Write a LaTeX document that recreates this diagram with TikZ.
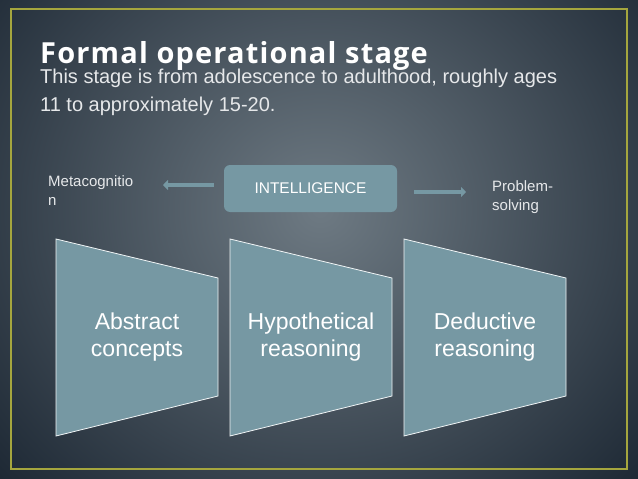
\documentclass[tikz,border=0pt]{standalone}
\usepackage{fontspec}
\usetikzlibrary{arrows.meta}
\setmainfont{Liberation Sans}
\newfontfamily\titlefont[Ligatures=NoCommon,LetterSpace=4]{Open Sans}
\definecolor{bgin}{HTML}{6E7A83}
\definecolor{bgout}{HTML}{1C2733}
\definecolor{boxc}{HTML}{7698A3}
\definecolor{framec}{HTML}{A5A63E}
\definecolor{txt}{HTML}{E6E8EA}
\tikzset{
  stagebox/.style={fill=boxc, draw=white!90!boxc, line width=0.8pt},
  lbl/.style={text=white, font=\fontsize{23}{27}\selectfont, align=center},
  small/.style={text=txt, font=\fontsize{15}{19}\selectfont, align=left, anchor=north west, inner sep=0pt},
  arr/.style={draw=boxc, line width=4.5pt, -{Triangle[length=5pt,width=10pt]}}
}
\begin{document}
\begin{tikzpicture}[x=1pt,y=-1pt]
\useasboundingbox (0,0) rectangle (638,479);
\shade[inner color=bgin, outer color=bgout] (-120,-200) rectangle (760,620);
\draw[framec, line width=1.2pt] (11,9) rectangle (627,469);
\node[anchor=base west, inner sep=0pt, text=white, font=\titlefont\bfseries\fontsize{29}{32}\selectfont] (title) at (40,63) {Formal operational stage};
\node[anchor=north west, inner sep=0pt, text=txt, align=left, font=\fontsize{20}{28}\selectfont] (intro) at (40,69) {This stage is from adolescence to adulthood, roughly ages\\11 to approximately 15-20.};
\node[fill=boxc, rounded corners=6pt, minimum width=173pt, minimum height=47pt, text=white, font=\fontsize{15.5}{18}\selectfont] (intel) at (310.5,188.5) {INTELLIGENCE};
\node[small] (meta) at (48,175) {Metacognitio\\n};
\node[small] (prob) at (492,180) {Problem-\\solving};
\coordinate (la) at (214,185); \coordinate (lb) at (163,185);
\coordinate (ra) at (414,192); \coordinate (rb) at (466,192);
\draw[arr] (la) -- (lb);
\draw[arr] (ra) -- (rb);
\foreach \x in {56,230,404}{
  \draw[stagebox] (\x,239) -- (\x+162,278) -- (\x+162,396) -- (\x,436) -- cycle;
}
\node[lbl] (s1) at (137,337) {Abstract\\concepts};
\node[lbl] (s2) at (311,337) {Hypothetical\\reasoning};
\node[lbl] (s3) at (485,337) {Deductive\\reasoning};
\end{tikzpicture}
\end{document}
